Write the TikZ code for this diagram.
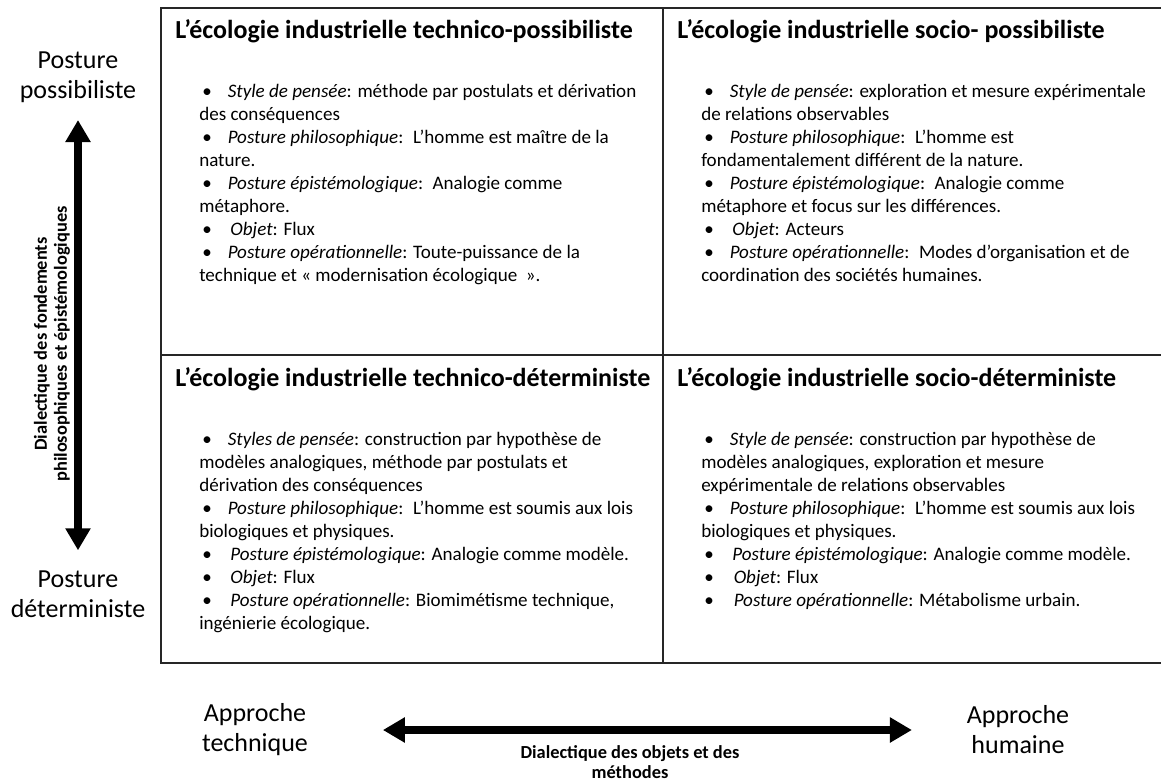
\documentclass[tikz,border=0pt]{standalone}
\usepackage{fontspec}
\setmainfont{Carlito}
\usetikzlibrary{positioning,arrows.meta}
\newcommand{\puce}[2][12pt]{\hspace*{2.25pt}\textbullet\hspace{#1}\textit{#2}}

\begin{document}
\begin{tikzpicture}[x=0.75pt,y=-0.75pt,
cell/.style={draw=black!85,line width=1.2pt,rectangle,anchor=north west,inner sep=0pt,outer sep=0pt,minimum width=376.5pt},
ttl/.style={font=\fontsize{19.5}{23}\selectfont\bfseries,inner sep=0pt},
corps/.style={font=\fontsize{14.3}{17.3}\selectfont,align=left,inner sep=0pt},
pole/.style={font=\fontsize{19.5}{22.5}\selectfont,align=center,inner sep=0pt},
axe/.style={font=\fontsize{13.8}{15}\selectfont\bfseries,align=center,inner sep=0pt},
fleche/.style={line width=6pt,{Triangle[width=18pt,length=16.5pt]}-{Triangle[width=18pt,length=16.5pt]}}]
\useasboundingbox (0,0) rectangle (1161,782);

% les quatre cases
\node (tp) [cell,minimum height=260.25pt] at (161,8) {};
\node (sp) [cell,minimum height=260.25pt] at (663,8) {};
\node (td) [cell,minimum height=231pt] at (161,355) {};
\node (sd) [cell,minimum height=231pt] at (663,355) {};

% titres
\node (tpT) [ttl,below right=8.5pt and 10.5pt of tp.north west] {L’écologie industrielle technico-possibiliste};
\node (spT) [ttl,below right=8.5pt and 10.5pt of sp.north west] {L’écologie industrielle socio- possibiliste};
\node (tdT) [ttl,below right=9pt and 10.5pt of td.north west] {L’écologie industrielle technico-déterministe};
\node (sdT) [ttl,below right=9pt and 10.5pt of sd.north west] {L’écologie industrielle socio-déterministe};

% contenus
\node (tpC) [corps,below right=30.5pt and 18pt of tpT.south west] {%
\puce{Style de pensée}: méthode par postulats et dérivation\\
des conséquences\\
\puce{Posture philosophique}:\enspace L’homme est maître de la\\
nature.\\
\puce{Posture épistémologique}:\enspace Analogie comme\\
métaphore.\\
\puce[14pt]{Objet}: Flux\\
\puce{Posture opérationnelle}: Toute-puissance de la\\
technique et « modernisation écologique~ ».};
\node (spC) [corps,below right=30.5pt and 18pt of spT.south west] {%
\puce{Style de pensée}: exploration et mesure expérimentale\\
de relations observables\\
\puce{Posture philosophique}:\enspace L’homme est\\
fondamentalement différent de la nature.\\
\puce{Posture épistémologique}:\enspace Analogie comme\\
métaphore et focus sur les différences.\\
\puce[14pt]{Objet}: Acteurs\\
\puce{Posture opérationnelle}:\enspace Modes d’organisation et de\\
coordination des sociétés humaines.};
\node (tdC) [corps,below right=30.5pt and 18pt of tdT.south west] {%
\puce{Styles de pensée}: construction par hypothèse de\\
modèles analogiques, méthode par postulats et\\
dérivation des conséquences\\
\puce{Posture philosophique}:\enspace L’homme est soumis aux lois\\
biologiques et physiques.\\
\puce[14pt]{Posture épistémologique}: Analogie comme modèle.\\
\puce[14pt]{Objet}: Flux\\
\puce[14pt]{Posture opérationnelle}: Biomimétisme technique,\\
ingénierie écologique.};
\node (sdC) [corps,below right=30.5pt and 18pt of sdT.south west] {%
\puce{Style de pensée}: construction par hypothèse de\\
modèles analogiques, exploration et mesure\\
expérimentale de relations observables\\
\puce{Posture philosophique}:\enspace L’homme est soumis aux lois\\
biologiques et physiques.\\
\puce[14pt]{Posture épistémologique}: Analogie comme modèle.\\
\puce[15pt]{Objet}: Flux\\
\puce[15pt]{Posture opérationnelle}: Métabolisme urbain.};

% axe vertical
\node (posP) [pole] at (78,77) {Posture\\possibiliste};
\node (posD) [pole] at (78,594) {Posture\\déterministe};
\draw[fleche,shorten <=13pt,shorten >=15pt] (posP) -- (posD);
\node (dialV) [axe,rotate=90] at (52,344) {Dialectique des fondements\\philosophiques et épistémologiques};

% axe horizontal
\node (apT) [pole] at (255,730) {Approche\\technique};
\node (apH) [pole] at (1018,730) {Approche\\humaine};
\draw[fleche,shorten <=56pt,shorten >=41pt] (apT) -- (apH);
\node (dialH) [axe] at (630,762) {Dialectique des objets et des\\méthodes};
\end{tikzpicture}
\end{document}
